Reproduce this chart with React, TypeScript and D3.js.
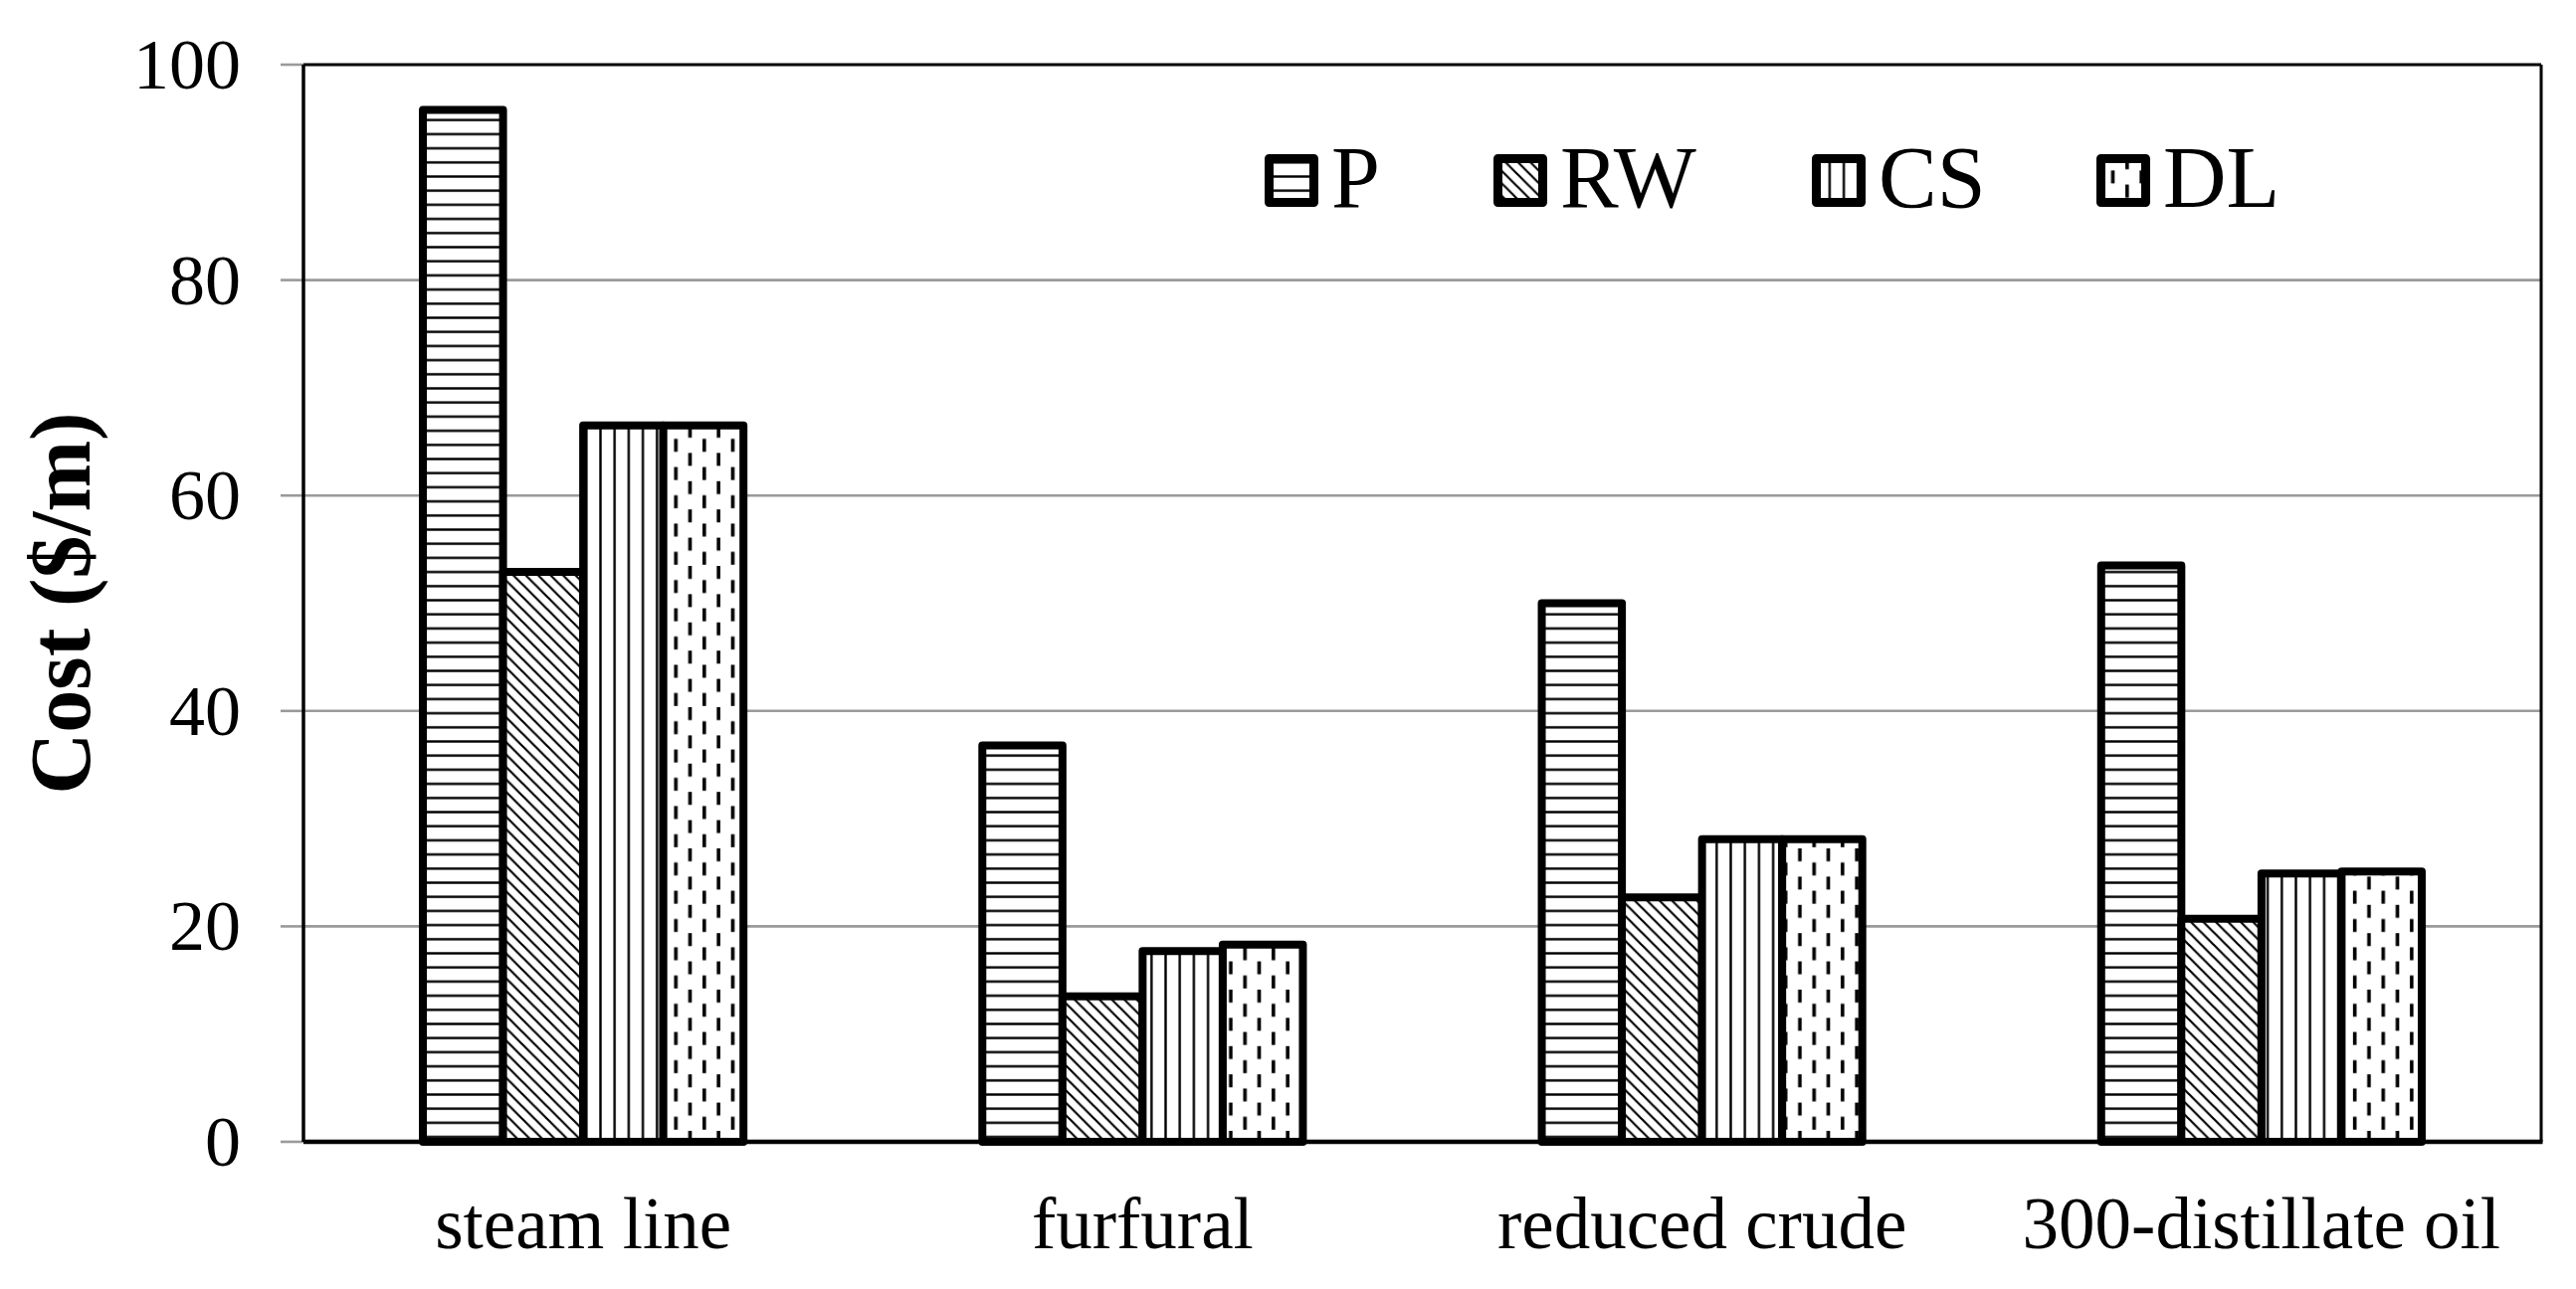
import * as d3 from 'd3';

// chart data
const categories = ['steam line', 'furfural', 'reduced crude', '300-distillate oil'];
const seriesNames = ['P', 'RW', 'CS', 'DL'];
const pValues = [95.8, 36.8, 50.0, 53.5];
const rwValues = [52.9, 13.5, 22.7, 20.7];
const csValues = [66.5, 17.7, 28.1, 24.9];
const dlValues = [66.5, 18.3, 28.1, 25.1];
const yTicks = [0, 20, 40, 60, 80, 100];

const seriesValues = [pValues, rwValues, csValues, dlValues];

// layout
const W = 2589;
const H = 1296;
const left = 305;
const right = 2554;
const top = 65;
const bottom = 1148;
const legendX = [1271, 1501, 1821, 2107];
const FONT = '"Liberation Serif", "Times New Roman", serif';

const x = d3.scaleBand().domain(categories).range([left, right]).paddingInner(0.427).paddingOuter(0.2135);
const xs = d3.scaleBand().domain(seriesNames).range([0, x.bandwidth()]);
const y = d3.scaleLinear().domain([0, 100]).range([bottom, top]);

const Patterns = () => {
  const hp = 14.2; // horizontal / vertical line period
  const dw = 12.5; // diagonal period
  const dlw = 28.6;
  const dlh = 28.4;
  return (
    <defs>
      <pattern id="pat-P" patternUnits="userSpaceOnUse" width={hp} height={hp}>
        <rect width={hp} height={hp} fill="#fff" />
        <line x1={0} x2={hp} y1={hp / 2} y2={hp / 2} stroke="#000" strokeWidth={2.4} />
      </pattern>
      <pattern id="pat-RW" patternUnits="userSpaceOnUse" width={dw} height={dw}>
        <rect width={dw} height={dw} fill="#fff" />
        <path
          d={`M-2,-2 L${dw + 2},${dw + 2} M-2,${dw - 2} L2,${dw + 2} M${dw - 2},-2 L${dw + 2},2`}
          stroke="#000"
          strokeWidth={2.2}
        />
      </pattern>
      <pattern id="pat-CS" patternUnits="userSpaceOnUse" width={hp} height={hp}>
        <rect width={hp} height={hp} fill="#fff" />
        <line y1={0} y2={hp} x1={hp / 2} x2={hp / 2} stroke="#000" strokeWidth={2.4} />
      </pattern>
      <pattern id="pat-DL" patternUnits="userSpaceOnUse" width={dlw} height={dlh}>
        <rect width={dlw} height={dlh} fill="#fff" />
        <rect x={dlw / 4 - 1.8} y={1} width={3.6} height={13} fill="#000" />
        <rect x={(dlw * 3) / 4 - 1.8} y={dlh / 2 + 1} width={3.6} height={13} fill="#000" />
      </pattern>
    </defs>
  );
};

export default function App() {
  const grid = yTicks.filter((t) => t > 0 && t < 100);
  return (
    <svg
      width={W}
      height={H}
      viewBox={`0 0 ${W} ${H}`}
      style={{ position: 'absolute', left: 0, top: 0, background: '#fff' }}
    >
      <Patterns />
      <rect width={W} height={H} fill="#fff" />

      {/* gridlines */}
      {grid.map((t) => (
        <line key={t} x1={left} x2={right} y1={y(t)} y2={y(t)} stroke="#9a9a9a" strokeWidth={2.6} />
      ))}

      {/* y ticks */}
      {yTicks.map((t) => (
        <line key={'tk' + t} x1={left - 23} x2={left} y1={y(t)} y2={y(t)} stroke="#9a9a9a" strokeWidth={2.6} />
      ))}

      {/* bars */}
      {seriesNames.map((s, si) => (
        <g key={s}>
          {categories.map((c, ci) => {
            const v = seriesValues[si][ci];
            return (
              <rect
                key={c}
                x={(x(c) ?? 0) + (xs(s) ?? 0)}
                y={y(v)}
                width={xs.bandwidth()}
                height={y(0) - y(v)}
                fill={`url(#pat-${s})`}
                stroke="#000"
                strokeWidth={8}
                strokeLinejoin="round"
              />
            );
          })}
        </g>
      ))}

      {/* plot border and axes */}
      <line x1={left} x2={right} y1={top} y2={top} stroke="#000" strokeWidth={3} />
      <line x1={right} x2={right} y1={top} y2={bottom} stroke="#000" strokeWidth={3} />
      <line x1={left} x2={left} y1={top} y2={bottom} stroke="#000" strokeWidth={3.5} />
      <line x1={left} x2={right + 1.5} y1={bottom} y2={bottom} stroke="#000" strokeWidth={4.5} />

      {/* y tick labels */}
      {yTicks.map((t) => (
        <text key={'l' + t} x={242} y={y(t) + 24} textAnchor="end" fontFamily={FONT} fontSize={72} fill="#000">
          {t}
        </text>
      ))}

      {/* x labels */}
      {categories.map((c) => (
        <text
          key={c}
          x={(x(c) ?? 0) + x.bandwidth() / 2}
          y={1255}
          textAnchor="middle"
          fontFamily={FONT}
          fontSize={73}
          fill="#000"
        >
          {c}
        </text>
      ))}

      {/* y axis title */}
      <text
        transform={`translate(90,${(top + bottom) / 2}) rotate(-90)`}
        textAnchor="middle"
        fontFamily={FONT}
        fontWeight="bold"
        fontSize={86}
        fill="#000"
      >
        Cost ($/m)
      </text>

      {/* legend */}
      {seriesNames.map((s, i) => (
        <g key={'lg' + s}>
          <rect
            x={legendX[i] + 4.5}
            y={159.5}
            width={45}
            height={44}
            fill={`url(#pat-${s})`}
            stroke="#000"
            strokeWidth={9}
            strokeLinejoin="round"
          />
          <text x={legendX[i] + 67} y={208} fontFamily={FONT} fontSize={88} fill="#000">
            {s}
          </text>
        </g>
      ))}
    </svg>
  );
}
